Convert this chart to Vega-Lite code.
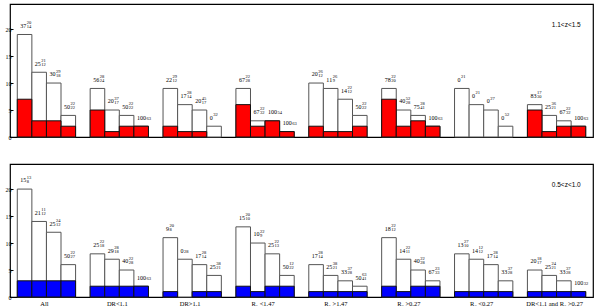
{
"$schema":"https://vega.github.io/schema/vega-lite/v6.json",
"autosize":{"type":"pad"},
"padding":{"left":0,"top":3,"right":0,"bottom":0},
"spacing":27,
"bounds":"flush",
"config":{"view":{"stroke":"black","strokeWidth":1.2},"font":"Liberation Serif","text":{"font":"Liberation Serif","fill":"black"},
 "axisY":{"tickSize":-3,"tickColor":"black","domain":false,"grid":false,"labelFontSize":6,"labelPadding":2,"labelColor":"black","labelFont":"Liberation Serif","labelOverlap":false,"minExtent":9,"maxExtent":9}},
"data":{"values":[
{"p":"1.1<z<1.5","s":"All|0","t":19,"c":7,"m":"37","u":"20","l":"14"},
{"p":"1.1<z<1.5","s":"All|1","t":12,"c":3,"m":"25","u":"21","l":"12"},
{"p":"1.1<z<1.5","s":"All|2","t":10,"c":3,"m":"30","u":"29","l":"18"},
{"p":"1.1<z<1.5","s":"All|3","t":4,"c":2,"m":"50","u":"22","l":"22"},
{"p":"1.1<z<1.5","s":"DR<1.1|0","t":9,"c":5,"m":"56","u":"28","l":"24"},
{"p":"1.1<z<1.5","s":"DR<1.1|1","t":5,"c":1,"m":"20","u":"37","l":"17"},
{"p":"1.1<z<1.5","s":"DR<1.1|2","t":4,"c":2,"m":"50","u":"22","l":"22"},
{"p":"1.1<z<1.5","s":"DR<1.1|3","t":2,"c":2,"m":"100","u":"","l":"63"},
{"p":"1.1<z<1.5","s":"DR>1.1|0","t":9,"c":2,"m":"22","u":"29","l":"12"},
{"p":"1.1<z<1.5","s":"DR>1.1|1","t":6,"c":1,"m":"17","u":"28","l":"14"},
{"p":"1.1<z<1.5","s":"DR>1.1|2","t":5,"c":1,"m":"20","u":"45","l":"17"},
{"p":"1.1<z<1.5","s":"DR>1.1|3","t":2,"c":0,"m":"0","u":"32","l":""},
{"p":"1.1<z<1.5","s":"R₁ <1.47|0","t":9,"c":6,"m":"67","u":"22","l":"28"},
{"p":"1.1<z<1.5","s":"R₁ <1.47|1","t":3,"c":2,"m":"67","u":"22","l":"32"},
{"p":"1.1<z<1.5","s":"R₁ <1.47|2","t":3,"c":3,"m":"100","u":"","l":"54"},
{"p":"1.1<z<1.5","s":"R₁ <1.47|3","t":1,"c":1,"m":"100","u":"","l":"63"},
{"p":"1.1<z<1.5","s":"R₁ >1.47|0","t":10,"c":2,"m":"20","u":"26","l":"12"},
{"p":"1.1<z<1.5","s":"R₁ >1.47|1","t":9,"c":1,"m":"11","u":"26","l":"9"},
{"p":"1.1<z<1.5","s":"R₁ >1.47|2","t":7,"c":1,"m":"14","u":"22","l":"12"},
{"p":"1.1<z<1.5","s":"R₁ >1.47|3","t":4,"c":2,"m":"50","u":"22","l":"22"},
{"p":"1.1<z<1.5","s":"R₂ >0.27|0","t":9,"c":7,"m":"78","u":"22","l":"20"},
{"p":"1.1<z<1.5","s":"R₂ >0.27|1","t":5,"c":2,"m":"40","u":"52","l":"28"},
{"p":"1.1<z<1.5","s":"R₂ >0.27|2","t":4,"c":3,"m":"75","u":"28","l":"41"},
{"p":"1.1<z<1.5","s":"R₂ >0.27|3","t":2,"c":2,"m":"100","u":"","l":"63"},
{"p":"1.1<z<1.5","s":"R₂ <0.27|0","t":9,"c":0,"m":"0","u":"21","l":""},
{"p":"1.1<z<1.5","s":"R₂ <0.27|1","t":6,"c":0,"m":"0","u":"21","l":""},
{"p":"1.1<z<1.5","s":"R₂ <0.27|2","t":5,"c":0,"m":"0","u":"27","l":""},
{"p":"1.1<z<1.5","s":"R₂ <0.27|3","t":2,"c":0,"m":"0","u":"52","l":""},
{"p":"1.1<z<1.5","s":"DR<1.1 and R₂ >0.27|0","t":6,"c":5,"m":"83","u":"17","l":"30"},
{"p":"1.1<z<1.5","s":"DR<1.1 and R₂ >0.27|1","t":4,"c":1,"m":"25","u":"36","l":"21"},
{"p":"1.1<z<1.5","s":"DR<1.1 and R₂ >0.27|2","t":3,"c":2,"m":"67","u":"22","l":"32"},
{"p":"1.1<z<1.5","s":"DR<1.1 and R₂ >0.27|3","t":2,"c":2,"m":"100","u":"","l":"63"},
{"p":"0.5<z<1.0","s":"All|0","t":20,"c":3,"m":"15","u":"13","l":"8"},
{"p":"0.5<z<1.0","s":"All|1","t":14,"c":3,"m":"21","u":"11","l":"12"},
{"p":"0.5<z<1.0","s":"All|2","t":12,"c":3,"m":"25","u":"24","l":"12"},
{"p":"0.5<z<1.0","s":"All|3","t":6,"c":3,"m":"50","u":"22","l":"27"},
{"p":"0.5<z<1.0","s":"DR<1.1|0","t":8,"c":2,"m":"25","u":"22","l":"18"},
{"p":"0.5<z<1.0","s":"DR<1.1|1","t":7,"c":2,"m":"29","u":"28","l":"18"},
{"p":"0.5<z<1.0","s":"DR<1.1|2","t":5,"c":2,"m":"40","u":"22","l":"28"},
{"p":"0.5<z<1.0","s":"DR<1.1|3","t":2,"c":2,"m":"100","u":"","l":"63"},
{"p":"0.5<z<1.0","s":"DR>1.1|0","t":11,"c":1,"m":"9","u":"20","l":"8"},
{"p":"0.5<z<1.0","s":"DR>1.1|1","t":7,"c":0,"m":"0","u":"","l":"28"},
{"p":"0.5<z<1.0","s":"DR>1.1|2","t":6,"c":1,"m":"17","u":"28","l":"14"},
{"p":"0.5<z<1.0","s":"DR>1.1|3","t":4,"c":1,"m":"25","u":"38","l":"21"},
{"p":"0.5<z<1.0","s":"R₁ <1.47|0","t":13,"c":2,"m":"15","u":"20","l":"10"},
{"p":"0.5<z<1.0","s":"R₁ <1.47|1","t":10,"c":1,"m":"10","u":"22","l":"9"},
{"p":"0.5<z<1.0","s":"R₁ <1.47|2","t":8,"c":2,"m":"25","u":"22","l":"13"},
{"p":"0.5<z<1.0","s":"R₁ <1.47|3","t":4,"c":2,"m":"50","u":"12","l":"22"},
{"p":"0.5<z<1.0","s":"R₁ >1.47|0","t":6,"c":1,"m":"17","u":"28","l":"14"},
{"p":"0.5<z<1.0","s":"R₁ >1.47|1","t":4,"c":1,"m":"25","u":"38","l":"21"},
{"p":"0.5<z<1.0","s":"R₁ >1.47|2","t":3,"c":1,"m":"33","u":"37","l":"28"},
{"p":"0.5<z<1.0","s":"R₁ >1.47|3","t":2,"c":1,"m":"50","u":"63","l":"41"},
{"p":"0.5<z<1.0","s":"R₂ >0.27|0","t":11,"c":2,"m":"18","u":"22","l":"12"},
{"p":"0.5<z<1.0","s":"R₂ >0.27|1","t":7,"c":1,"m":"14","u":"22","l":"11"},
{"p":"0.5<z<1.0","s":"R₂ >0.27|2","t":5,"c":2,"m":"40","u":"22","l":"28"},
{"p":"0.5<z<1.0","s":"R₂ >0.27|3","t":3,"c":2,"m":"67","u":"23","l":"33"},
{"p":"0.5<z<1.0","s":"R₂ <0.27|0","t":8,"c":1,"m":"13","u":"27","l":"10"},
{"p":"0.5<z<1.0","s":"R₂ <0.27|1","t":7,"c":1,"m":"14","u":"12","l":"12"},
{"p":"0.5<z<1.0","s":"R₂ <0.27|2","t":6,"c":1,"m":"17","u":"28","l":"14"},
{"p":"0.5<z<1.0","s":"R₂ <0.27|3","t":3,"c":1,"m":"33","u":"37","l":"28"},
{"p":"0.5<z<1.0","s":"DR<1.1 and R₂ >0.27|0","t":5,"c":1,"m":"20","u":"18","l":"17"},
{"p":"0.5<z<1.0","s":"DR<1.1 and R₂ >0.27|1","t":4,"c":1,"m":"25","u":"24","l":"21"},
{"p":"0.5<z<1.0","s":"DR<1.1 and R₂ >0.27|2","t":3,"c":1,"m":"33","u":"37","l":"28"},
{"p":"0.5<z<1.0","s":"DR<1.1 and R₂ >0.27|3","t":1,"c":1,"m":"100","u":"","l":"32"}
]},
"vconcat":[
{"transform":[{"filter":"datum.p == '1.1<z<1.5'"}],
 "width":583,"height":133,
 "encoding":{
  "x":{"field":"s","type":"nominal","title":null,"axis":null,
   "scale":{"domain":["All|0","All|1","All|2","All|3","All|g","DR<1.1|0","DR<1.1|1","DR<1.1|2","DR<1.1|3","DR<1.1|g","DR>1.1|0","DR>1.1|1","DR>1.1|2","DR>1.1|3","DR>1.1|g","R₁ <1.47|0","R₁ <1.47|1","R₁ <1.47|2","R₁ <1.47|3","R₁ <1.47|g","R₁ >1.47|0","R₁ >1.47|1","R₁ >1.47|2","R₁ >1.47|3","R₁ >1.47|g","R₂ >0.27|0","R₂ >0.27|1","R₂ >0.27|2","R₂ >0.27|3","R₂ >0.27|g","R₂ <0.27|0","R₂ <0.27|1","R₂ <0.27|2","R₂ <0.27|3","R₂ <0.27|g","DR<1.1 and R₂ >0.27|0","DR<1.1 and R₂ >0.27|1","DR<1.1 and R₂ >0.27|2","DR<1.1 and R₂ >0.27|3"],"paddingInner":0,"paddingOuter":0.5}},
  "y":{"field":"t","type":"quantitative","title":null,"scale":{"domain":[0,24.65],"nice":false,"zero":true},"axis":{"values":[0,5,10,15,20]}}},
 "layer":[
  {"mark":{"type":"bar","fill":"white","stroke":"#555555","strokeWidth":1}},
  {"transform":[{"filter":"datum.c > 0"}],"mark":{"type":"bar","fill":"#ff0000","stroke":"#111111","strokeWidth":1},
   "encoding":{"y":{"field":"c","type":"quantitative","title":null,"axis":{"values":[0,5,10,15,20]}}}},
  {"mark":{"type":"text","align":"left","baseline":"alphabetic","dx":-4.3,"dy":-6.7,"fontSize":6,"fill":"black"},"encoding":{"text":{"field":"m"}}},
  {"transform":[{"filter":"length(datum.m) == 1"}],"mark":{"type":"text","align":"left","baseline":"alphabetic","dx":-0.8,"dy":-10.4,"fontSize":4.5,"fill":"black"},"encoding":{"text":{"field":"u"}}},
  {"transform":[{"filter":"length(datum.m) == 2"}],"mark":{"type":"text","align":"left","baseline":"alphabetic","dx":2.2,"dy":-10.4,"fontSize":4.5,"fill":"black"},"encoding":{"text":{"field":"u"}}},
  {"transform":[{"filter":"length(datum.m) == 1"}],"mark":{"type":"text","align":"left","baseline":"alphabetic","dx":-0.8,"dy":-6.5,"fontSize":4.5,"fill":"black"},"encoding":{"text":{"field":"l"}}},
  {"transform":[{"filter":"length(datum.m) == 2"}],"mark":{"type":"text","align":"left","baseline":"alphabetic","dx":2.2,"dy":-6.5,"fontSize":4.5,"fill":"black"},"encoding":{"text":{"field":"l"}}},
  {"transform":[{"filter":"length(datum.m) == 3"}],"mark":{"type":"text","align":"left","baseline":"alphabetic","dx":5.2,"dy":-6.5,"fontSize":4.5,"fill":"black"},"encoding":{"text":{"field":"l"}}},
  {"transform":[{"filter":"datum.s == 'DR<1.1 and R₂ >0.27|3'"}],"mark":{"type":"text","align":"right","baseline":"middle","dx":2.3,"fontSize":6.5,"font":"Liberation Sans","fill":"black"},
   "encoding":{"y":{"datum":20.8,"type":"quantitative","title":null,"axis":{"values":[0,5,10,15,20]}},"text":{"field":"p"}}}
 ]},
{"transform":[{"filter":"datum.p == '0.5<z<1.0'"}],
 "width":583,"height":133,
 "encoding":{
  "x":{"field":"s","type":"nominal","title":null,
   "scale":{"domain":["All|0","All|1","All|2","All|3","All|g","DR<1.1|0","DR<1.1|1","DR<1.1|2","DR<1.1|3","DR<1.1|g","DR>1.1|0","DR>1.1|1","DR>1.1|2","DR>1.1|3","DR>1.1|g","R₁ <1.47|0","R₁ <1.47|1","R₁ <1.47|2","R₁ <1.47|3","R₁ <1.47|g","R₁ >1.47|0","R₁ >1.47|1","R₁ >1.47|2","R₁ >1.47|3","R₁ >1.47|g","R₂ >0.27|0","R₂ >0.27|1","R₂ >0.27|2","R₂ >0.27|3","R₂ >0.27|g","R₂ <0.27|0","R₂ <0.27|1","R₂ <0.27|2","R₂ <0.27|3","R₂ <0.27|g","DR<1.1 and R₂ >0.27|0","DR<1.1 and R₂ >0.27|1","DR<1.1 and R₂ >0.27|2","DR<1.1 and R₂ >0.27|3"],"paddingInner":0,"paddingOuter":0.5},
   "axis":{"values":["All|1","DR<1.1|1","DR>1.1|1","R₁ <1.47|1","R₁ >1.47|1","R₂ >0.27|1","R₂ <0.27|1","DR<1.1 and R₂ >0.27|1"],"labelExpr":"split(datum.value,'|')[0]","labelOffset":5.3,"labelAngle":0,"labelOverlap":false,"ticks":false,"domain":false,"grid":false,"labelFontSize":6.5,"labelPadding":3,"labelColor":"black","labelFont":"Liberation Serif","labelBaseline":"top","minExtent":9,"maxExtent":9}},
  "y":{"field":"t","type":"quantitative","title":null,"scale":{"domain":[0,24.65],"nice":false,"zero":true},"axis":{"values":[0,5,10,15,20]}}},
 "layer":[
  {"mark":{"type":"bar","fill":"white","stroke":"#555555","strokeWidth":1}},
  {"transform":[{"filter":"datum.c > 0"}],"mark":{"type":"bar","fill":"#0000ff","stroke":"#111111","strokeWidth":1},
   "encoding":{"y":{"field":"c","type":"quantitative","title":null,"axis":{"values":[0,5,10,15,20]}}}},
  {"mark":{"type":"text","align":"left","baseline":"alphabetic","dx":-4.3,"dy":-6.7,"fontSize":6,"fill":"black"},"encoding":{"text":{"field":"m"}}},
  {"transform":[{"filter":"length(datum.m) == 1"}],"mark":{"type":"text","align":"left","baseline":"alphabetic","dx":-0.8,"dy":-10.4,"fontSize":4.5,"fill":"black"},"encoding":{"text":{"field":"u"}}},
  {"transform":[{"filter":"length(datum.m) == 2"}],"mark":{"type":"text","align":"left","baseline":"alphabetic","dx":2.2,"dy":-10.4,"fontSize":4.5,"fill":"black"},"encoding":{"text":{"field":"u"}}},
  {"transform":[{"filter":"length(datum.m) == 1"}],"mark":{"type":"text","align":"left","baseline":"alphabetic","dx":-0.8,"dy":-6.5,"fontSize":4.5,"fill":"black"},"encoding":{"text":{"field":"l"}}},
  {"transform":[{"filter":"length(datum.m) == 2"}],"mark":{"type":"text","align":"left","baseline":"alphabetic","dx":2.2,"dy":-6.5,"fontSize":4.5,"fill":"black"},"encoding":{"text":{"field":"l"}}},
  {"transform":[{"filter":"length(datum.m) == 3"}],"mark":{"type":"text","align":"left","baseline":"alphabetic","dx":5.2,"dy":-6.5,"fontSize":4.5,"fill":"black"},"encoding":{"text":{"field":"l"}}},
  {"transform":[{"filter":"datum.s == 'DR<1.1 and R₂ >0.27|3'"}],"mark":{"type":"text","align":"right","baseline":"middle","dx":2.3,"fontSize":6.5,"font":"Liberation Sans","fill":"black"},
   "encoding":{"y":{"datum":20.8,"type":"quantitative","title":null,"axis":{"values":[0,5,10,15,20]}},"text":{"field":"p"}}}
 ]}
]
}
